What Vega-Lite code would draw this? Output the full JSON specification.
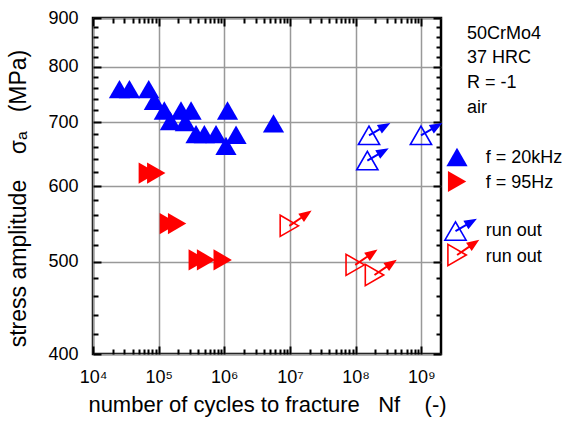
{
  "$schema": "https://vega.github.io/schema/vega-lite/v6.json",
  "padding": {"left": 6, "top": 7, "right": 0, "bottom": 0},
  "spacing": 0,
  "bounds": "flush",
  "config": {"font": "Liberation Sans", "axis": {"minExtent": 0}},
  "datasets": {
    "f20k": [
      {"N": 25300, "S": 758}, {"N": 35900, "S": 758}, {"N": 70600, "S": 758},
      {"N": 86000, "S": 737}, {"N": 122000, "S": 720}, {"N": 151000, "S": 702},
      {"N": 219000, "S": 720}, {"N": 255000, "S": 700}, {"N": 312000, "S": 720},
      {"N": 371000, "S": 680}, {"N": 497000, "S": 680}, {"N": 748000, "S": 680},
      {"N": 1060000, "S": 661}, {"N": 1120000, "S": 720}, {"N": 1510000, "S": 679},
      {"N": 5620000, "S": 698}
    ],
    "f95": [
      {"N": 68400, "S": 619}, {"N": 92000, "S": 619}, {"N": 143000, "S": 548},
      {"N": 191000, "S": 548}, {"N": 394000, "S": 502}, {"N": 528000, "S": 502},
      {"N": 946000, "S": 502}
    ],
    "ro20k": [
      {"N": 160000000, "S": 678}, {"N": 990000000, "S": 678}, {"N": 151000000, "S": 638}
    ],
    "ro95": [
      {"N": 9800000, "S": 545}, {"N": 98700000, "S": 496}, {"N": 194000000, "S": 484}
    ]
  },
  "resolve": {"scale": {"x": "independent", "y": "independent"}},
  "hconcat": [
    {
      "width": 348,
      "height": 336,
      "view": {"stroke": "black", "strokeWidth": 2.5},
      "resolve": {"axis": {"x": "independent", "y": "independent"}},
      "layer": [
        {
          "data": {"name": "f20k"},
          "mark": {"type": "point", "shape": "triangle-up", "filled": true, "color": "#0000ff", "size": 450, "opacity": 1},
          "encoding": {
            "x": {"field": "N", "type": "quantitative",
              "scale": {"type": "log", "domain": [10000, 2000000000], "nice": false},
              "axis": {"orient": "bottom", "values": [10000, 100000, 1000000, 10000000, 100000000, 1000000000],
                "tickSize": -8, "tickWidth": 2, "tickColor": "black", "domain": false,
                "grid": true, "gridColor": "#999999", "gridWidth": 1.5,
                "labelExpr": "'10' + ['⁰','¹','²','³','⁴','⁵','⁶','⁷','⁸','⁹'][round(log(datum.value)/LN10)]",
                "labelFlush": false, "labelOverlap": false, "labelFontSize": 18, "labelPadding": 22, "labelColor": "black",
                "title": "number of cycles to fracture\u00a0\u00a0\u00a0Nf\u00a0\u00a0\u00a0\u00a0(-)",
                "titleFontSize": 22, "titleFontWeight": "normal", "titlePadding": 8, "titleColor": "black"}},
            "y": {"field": "S", "type": "quantitative",
              "scale": {"type": "log", "domain": [400, 900], "nice": false},
              "axis": {"orient": "left", "values": [400, 500, 600, 700, 800, 900], "format": "d",
                "tickSize": -8, "tickWidth": 2, "tickColor": "black", "domain": false,
                "grid": true, "gridColor": "#999999", "gridWidth": 1.5,
                "labelOverlap": false, "labelFontSize": 18, "labelPadding": 23, "labelColor": "black",
                "title": "stress amplitude\u00a0\u00a0\u00a0\u00a0σₐ\u00a0\u00a0\u00a0(MPa)",
                "titleFontSize": 23, "titleFontWeight": "normal", "titlePadding": 17, "titleY": 180, "titleColor": "black"}}
          }
        },
        {
          "data": {"name": "f95"},
          "mark": {"type": "point", "shape": "triangle-right", "filled": true, "color": "#ff0000", "size": 450, "opacity": 1},
          "encoding": {
            "x": {"field": "N", "type": "quantitative",
              "axis": {"orient": "bottom", "title": null, "labels": false, "grid": false, "domain": false,
                "values": [20000, 30000, 40000, 50000, 60000, 70000, 80000, 90000,
                  200000, 300000, 400000, 500000, 600000, 700000, 800000, 900000,
                  2000000, 3000000, 4000000, 5000000, 6000000, 7000000, 8000000, 9000000,
                  20000000, 30000000, 40000000, 50000000, 60000000, 70000000, 80000000, 90000000,
                  200000000, 300000000, 400000000, 500000000, 600000000, 700000000, 800000000, 900000000],
                "tickSize": -5, "tickWidth": 2, "tickColor": "black"}},
            "y": {"field": "S", "type": "quantitative",
              "axis": {"orient": "left", "title": null, "labels": false, "grid": false, "domain": false,
                "values": [420, 440, 460, 480, 520, 540, 560, 580, 620, 640, 660, 680, 720, 740, 760, 780, 820, 840, 860, 880],
                "tickSize": -5, "tickWidth": 2, "tickColor": "black"}}
          }
        },
        {
          "data": {"name": "ro20k"},
          "mark": {"type": "point", "shape": "triangle-up", "filled": false, "color": "#0000ff", "size": 450, "strokeWidth": 1.6, "opacity": 1},
          "encoding": {
            "x": {"field": "N", "type": "quantitative",
              "axis": {"orient": "top", "title": null, "labels": false, "grid": false, "domain": false,
                "values": [10000, 100000, 1000000, 10000000, 100000000, 1000000000],
                "tickSize": -8, "tickWidth": 2, "tickColor": "black"}},
            "y": {"field": "S", "type": "quantitative",
              "axis": {"orient": "right", "title": null, "labels": false, "grid": false, "domain": false,
                "values": [400, 500, 600, 700, 800, 900],
                "tickSize": -8, "tickWidth": 2, "tickColor": "black"}}
          }
        },
        {
          "data": {"name": "ro95"},
          "mark": {"type": "point", "shape": "triangle-right", "filled": false, "color": "#ff0000", "size": 450, "strokeWidth": 1.6, "opacity": 1},
          "encoding": {
            "x": {"field": "N", "type": "quantitative",
              "axis": {"orient": "top", "title": null, "labels": false, "grid": false, "domain": false,
                "values": [20000, 30000, 40000, 50000, 60000, 70000, 80000, 90000,
                  200000, 300000, 400000, 500000, 600000, 700000, 800000, 900000,
                  2000000, 3000000, 4000000, 5000000, 6000000, 7000000, 8000000, 9000000,
                  20000000, 30000000, 40000000, 50000000, 60000000, 70000000, 80000000, 90000000,
                  200000000, 300000000, 400000000, 500000000, 600000000, 700000000, 800000000, 900000000],
                "tickSize": -5, "tickWidth": 2, "tickColor": "black"}},
            "y": {"field": "S", "type": "quantitative",
              "axis": {"orient": "right", "title": null, "labels": false, "grid": false, "domain": false,
                "values": [420, 440, 460, 480, 520, 540, 560, 580, 620, 640, 660, 680, 720, 740, 760, 780, 820, 840, 860, 880],
                "tickSize": -5, "tickWidth": 2, "tickColor": "black"}}
          }
        },
        {
          "data": {"name": "ro20k"},
          "mark": {"type": "point", "shape": "M0,0L11.2,-6.5M19,-11L13,-3.5L9.5,-9.5Z", "size": 4, "filled": true, "fill": "#0000ff", "stroke": "#0000ff", "strokeWidth": 2, "opacity": 1},
          "encoding": {
            "x": {"field": "N", "type": "quantitative", "axis": null},
            "y": {"field": "S", "type": "quantitative", "axis": null}
          }
        },
        {
          "data": {"name": "ro95"},
          "mark": {"type": "point", "shape": "M0,0L12.6,-8.6M20,-13.7L14.6,-5.7L10.6,-11.5Z", "size": 4, "filled": true, "fill": "#ff0000", "stroke": "#ff0000", "strokeWidth": 2, "opacity": 1},
          "encoding": {
            "x": {"field": "N", "type": "quantitative", "axis": null},
            "y": {"field": "S", "type": "quantitative", "axis": null}
          }
        }
      ]
    },
    {
      "width": 133,
      "height": 336,
      "view": {"stroke": null},
      "encoding": {
        "x": {"field": "x", "type": "quantitative", "scale": {"domain": [0, 1], "nice": false}, "axis": null},
        "y": {"field": "y", "type": "quantitative", "scale": {"domain": [0, 1], "nice": false, "reverse": true}, "axis": null}
      },
      "layer": [
        {
          "data": {"values": [
            {"label": "50CrMo4", "x": 0.1955, "y": 0.0616},
            {"label": "37 HRC", "x": 0.1955, "y": 0.1348},
            {"label": "R = -1", "x": 0.1955, "y": 0.2092},
            {"label": "air", "x": 0.1955, "y": 0.2818},
            {"label": "f = 20kHz", "x": 0.336, "y": 0.4324},
            {"label": "f = 95Hz", "x": 0.336, "y": 0.5068},
            {"label": "run out", "x": 0.336, "y": 0.6488},
            {"label": "run out", "x": 0.336, "y": 0.7253}
          ]},
          "mark": {"type": "text", "align": "left", "baseline": "alphabetic", "fontSize": 18, "color": "black"},
          "encoding": {"text": {"field": "label"}}
        },
        {
          "data": {"values": [{"x": 0.1203, "y": 0.4137}]},
          "mark": {"type": "point", "shape": "triangle-up", "filled": true, "color": "#0000ff", "size": 450, "opacity": 1}
        },
        {
          "data": {"values": [{"x": 0.121, "y": 0.4866}]},
          "mark": {"type": "point", "shape": "triangle-right", "filled": true, "color": "#ff0000", "size": 450, "opacity": 1}
        },
        {
          "data": {"values": [{"x": 0.109, "y": 0.634}]},
          "mark": {"type": "point", "shape": "triangle-up", "filled": false, "color": "#0000ff", "size": 450, "strokeWidth": 1.6, "opacity": 1}
        },
        {
          "data": {"values": [{"x": 0.109, "y": 0.634}]},
          "mark": {"type": "point", "shape": "M0,0L11.2,-6.5M19,-11L13,-3.5L9.5,-9.5Z", "size": 4, "filled": true, "fill": "#0000ff", "stroke": "#0000ff", "strokeWidth": 2, "opacity": 1}
        },
        {
          "data": {"values": [{"x": 0.121, "y": 0.7054}]},
          "mark": {"type": "point", "shape": "triangle-right", "filled": false, "color": "#ff0000", "size": 450, "strokeWidth": 1.6, "opacity": 1}
        },
        {
          "data": {"values": [{"x": 0.121, "y": 0.7054}]},
          "mark": {"type": "point", "shape": "M0,0L12.6,-8.6M20,-13.7L14.6,-5.7L10.6,-11.5Z", "size": 4, "filled": true, "fill": "#ff0000", "stroke": "#ff0000", "strokeWidth": 2, "opacity": 1}
        }
      ]
    }
  ]
}
